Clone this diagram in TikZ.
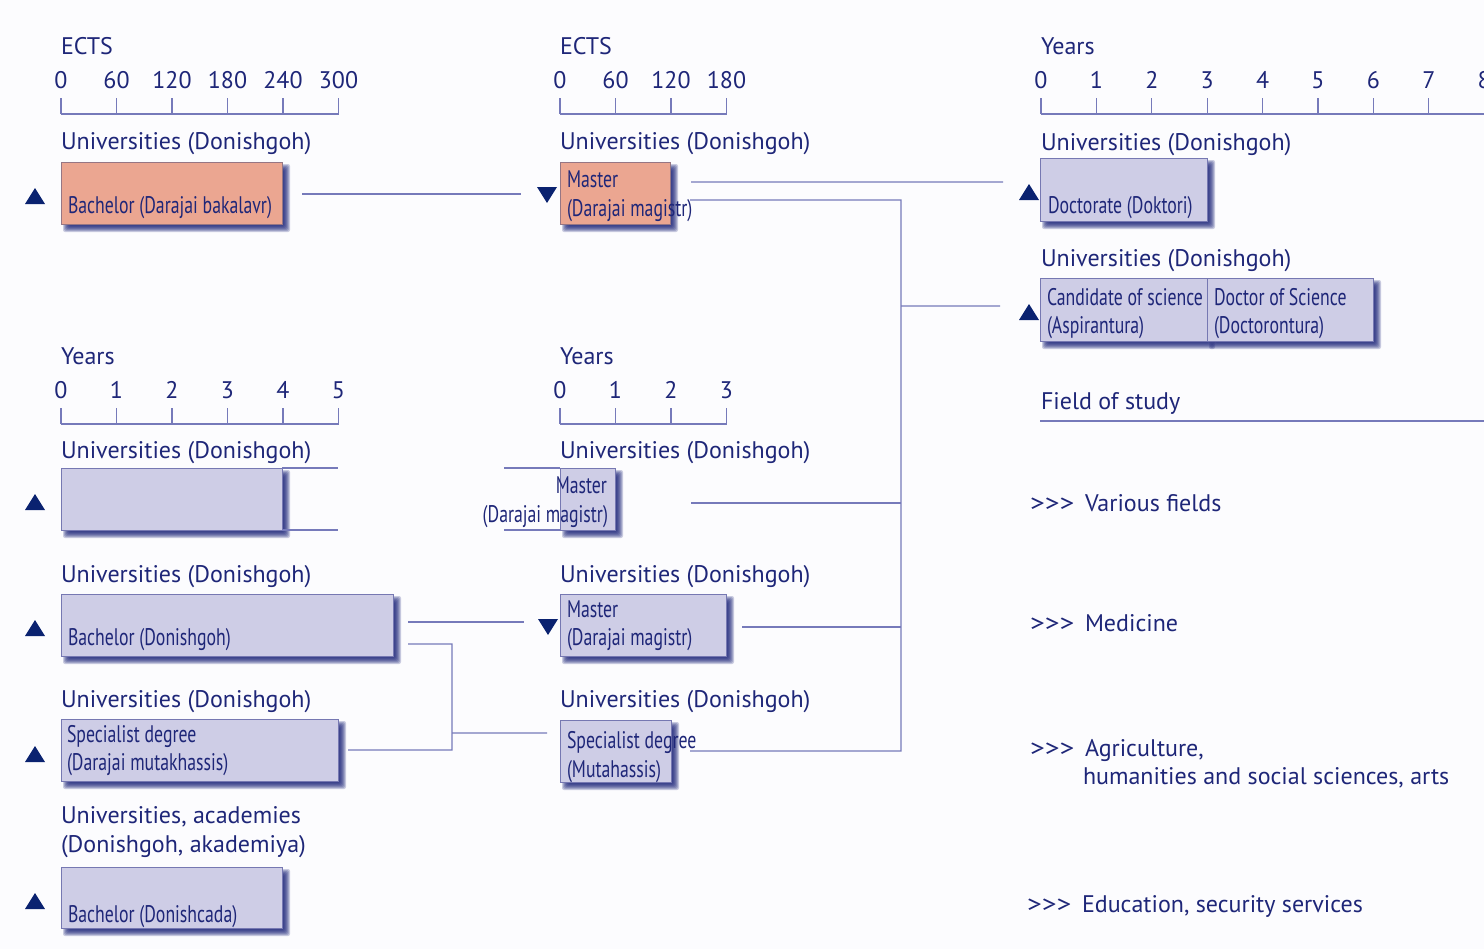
\documentclass[tikz,border=0pt]{standalone}
\usepackage{fontspec}
\setmainfont{PT Sans}
\newfontfamily\condfont[FakeStretch=0.74]{PT Sans}
\usetikzlibrary{calc}
\definecolor{navy}{RGB}{30,38,120}
\definecolor{tricol}{RGB}{10,34,112}
\definecolor{lav}{RGB}{206,205,230}
\definecolor{lavborder}{RGB}{118,120,178}
\definecolor{salmon}{RGB}{235,166,145}
\definecolor{salborder}{RGB}{150,118,132}
\definecolor{conn}{RGB}{118,122,186}
\definecolor{shadowcol}{RGB}{22,30,118}
\definecolor{bgc}{RGB}{252,252,254}
\pgfdeclarelayer{bglayer}
\pgfdeclarelayer{shadowlayer}
\pgfsetlayers{bglayer,shadowlayer,main}
\newcommand\dropshade[1]{%
  \begin{pgfonlayer}{shadowlayer}
    \foreach \k in {4,3,2,1,0,-1,-2}{%
      \fill[shadowcol,opacity=0.22,rounded corners=2bp] ($(#1.north west)+(6-\k,6-\k)$) rectangle ($(#1.south east)+(4+\k,4+\k)$);
    }
  \end{pgfonlayer}}
\newcommand\uptri[2]{\fill[tricol] (#1-10,#2) -- (#1+10,#2) -- (#1,#2-16) -- cycle;}
\newcommand\downtri[2]{\fill[tricol] (#1-10,#2) -- (#1+10,#2) -- (#1,#2+16) -- cycle;}
\newcommand\chev{\scalebox{1.22}[1]{>{}>{}>}}
\tikzset{
  lbl/.style={anchor=base west, inner sep=0pt, outer sep=0pt, text=navy, font=\fontsize{24bp}{28bp}\selectfont},
  num/.style={anchor=base, inner sep=0pt, outer sep=0pt, text=navy, font=\fontsize{24bp}{28bp}\selectfont},
  btxt/.style={anchor=base west, inner sep=0pt, outer sep=0pt, text=navy, font=\condfont\fontsize{24bp}{28bp}\selectfont},
  btxtr/.style={btxt, anchor=base east},
  degbox/.style={draw=lavborder, fill=lav, line width=0.9bp, anchor=north west, inner sep=0pt, outer sep=0pt},
  orangebox/.style={degbox, draw=salborder, fill=salmon},
  conn/.style={draw=conn, line width=1.2bp},
  axisline/.style={draw=conn, line width=1.1bp},
}
\begin{document}
\begin{tikzpicture}[x=1bp,y=-1bp]
\begin{pgfonlayer}{bglayer}
  \fill[bgc] (0,0) rectangle (1484,949);
\end{pgfonlayer}
\useasboundingbox (0,0) rectangle (1484,949);

% ---------- scales ----------
\node[lbl] (ects1) at (61,54) {ECTS};
\foreach \v [count=\i from 0] in {0,60,120,180,240,300}{
  \node[num] (ea\i) at (61+55.5*\i,88) {\v};
  \draw[axisline] (61+55.5*\i,98) -- (61+55.5*\i,114);
}
\draw[axisline] (61,114) -- (338.5,114);

\node[lbl] (ects2) at (560,54) {ECTS};
\foreach \v [count=\i from 0] in {0,60,120,180}{
  \node[num] (eb\i) at (560+55.5*\i,88) {\v};
  \draw[axisline] (560+55.5*\i,98) -- (560+55.5*\i,114);
}
\draw[axisline] (560,114) -- (726.5,114);

\node[lbl] (yrs3) at (1041,54) {Years};
\foreach \v [count=\i from 0] in {0,1,2,3,4,5,6,7,8}{
  \node[num] (ec\i) at (1041+55.4*\i,88) {\v};
  \draw[axisline] (1041+55.4*\i,98) -- (1041+55.4*\i,114);
}
\draw[axisline] (1041,114) -- (1490,114);

\node[lbl] (yrs1) at (61,364) {Years};
\foreach \v [count=\i from 0] in {0,1,2,3,4,5}{
  \node[num] (ed\i) at (61+55.5*\i,398) {\v};
  \draw[axisline] (61+55.5*\i,408) -- (61+55.5*\i,424);
}
\draw[axisline] (61,424) -- (338.5,424);

\node[lbl] (yrs2) at (560,364) {Years};
\foreach \v [count=\i from 0] in {0,1,2,3}{
  \node[num] (ee\i) at (560+55.5*\i,398) {\v};
  \draw[axisline] (560+55.5*\i,408) -- (560+55.5*\i,424);
}
\draw[axisline] (560,424) -- (726.5,424);

% ---------- institution labels ----------
\node[lbl] (u1) at (61,149) {Universities (Donishgoh)};
\node[lbl] (u2) at (560,149) {Universities (Donishgoh)};
\node[lbl] (u3) at (1041,150) {Universities (Donishgoh)};
\node[lbl] (u4) at (1041,266) {Universities (Donishgoh)};
\node[lbl] (u5) at (61,458) {Universities (Donishgoh)};
\node[lbl] (u6) at (560,458) {Universities (Donishgoh)};
\node[lbl] (u7) at (61,582) {Universities (Donishgoh)};
\node[lbl] (u8) at (560,582) {Universities (Donishgoh)};
\node[lbl] (u9) at (61,707) {Universities (Donishgoh)};
\node[lbl] (u10) at (560,707) {Universities (Donishgoh)};
\node[lbl] (u11) at (61,823) {Universities, academies};
\node[lbl] (u12) at (61,852) {(Donishgoh, akademiya)};

% ---------- boxes ----------
\node[orangebox, minimum width=221bp, minimum height=62bp] (b1) at (61,162) {};
\node[orangebox, minimum width=110bp, minimum height=62bp] (m1) at (560,162) {};
\node[degbox, minimum width=167bp, minimum height=63bp] (d1) at (1040,158) {};
\node[degbox, minimum width=167bp, minimum height=63bp] (c1) at (1040,278) {};
\node[degbox, minimum width=166bp, minimum height=63bp] (c2) at (1207,278) {};
\node[degbox, minimum width=221bp, minimum height=62bp] (e1) at (61,468) {};
\node[degbox, minimum width=55bp, minimum height=62bp] (m2) at (560,468) {};
\node[degbox, minimum width=332bp, minimum height=62bp] (b2) at (61,594) {};
\node[degbox, minimum width=166bp, minimum height=62bp] (m3) at (560,594) {};
\node[degbox, minimum width=277bp, minimum height=62bp] (s1) at (61,719) {};
\node[degbox, minimum width=111bp, minimum height=62bp] (s2) at (560,720) {};
\node[degbox, minimum width=221bp, minimum height=61bp] (b3) at (61,867) {};
\foreach \n in {b1,m1,d1,c1,c2,e1,m2,b2,m3,s1,s2,b3}{\dropshade{\n}}

% ---------- markers ----------
\uptri{35}{204}
\downtri{547}{187}
\uptri{1029}{200}
\uptri{1029}{320}
\uptri{35}{510}
\uptri{35}{636}
\downtri{548}{619}
\uptri{35}{762}
\uptri{35}{909}

% ---------- connectors ----------
\coordinate (brtop) at (901,200);
\coordinate (brbot) at (901,751);
\draw[conn] ($(b1.east)+(20,1)$) -- ($(m1.west)+(-39,1)$);
\draw[conn] ($(m1.east)+(21,-11)$) -- ($(d1.west)+(-37,-7.5)$);
\draw[conn] ($(m1.east)+(20,7)$) -- (brtop) -- (brbot) -- ($(s2.east)+(19,0)$);
\draw[conn] (brtop |- 0,306) -- ($(c1.west)+(-40,-3.5)$);
\draw[conn] ($(m2.east)+(76,4)$) coordinate (m2o) -- (m2o -| brtop);
\draw[conn] ($(m3.east)+(16,2)$) coordinate (m3o) -- (m3o -| brtop);
\draw[conn] (e1.north east) -- ++(56,0);
\draw[conn] (e1.south east) -- ++(56,0);
\draw[conn] (m2.north west) -- ++(-56,0);
\draw[conn] (m2.south west) -- ++(-56,0);
\draw[conn] ($(b2.east)+(15,-3)$) -- ($(m3.west)+(-36,-3)$);
\draw[conn] ($(b2.east)+(15,19)$) -- (452,644) coordinate (jn) -- (jn |- s1.east) -- ($(s1.east)+(10,0)$);
\draw[conn] (jn |- 0,733) -- ($(s2.west)+(-13,-18)$);
\draw[conn] (1040,421) -- (1490,421);

% ---------- box texts ----------
\node[btxt] (tb1) at (68,213) {Bachelor (Darajai bakalavr)};
\node[btxt] (tm1a) at (567,187) {Master};
\node[btxt] (tm1b) at (567,216) {(Darajai magistr)};
\node[btxt] (td1) at (1048,213) {Doctorate (Doktori)};
\node[btxt] (tc1a) at (1047,305) {Candidate of science};
\node[btxt] (tc1b) at (1047,333) {(Aspirantura)};
\node[btxt] (tc2a) at (1214,305) {Doctor of Science};
\node[btxt] (tc2b) at (1214,333) {(Doctorontura)};
\node[btxtr] (tm2a) at (607,493) {Master};
\node[btxtr] (tm2b) at (608,522) {(Darajai magistr)};
\node[btxt] (tb2) at (68,645) {Bachelor (Donishgoh)};
\node[btxt] (tm3a) at (567,617) {Master};
\node[btxt] (tm3b) at (567,645) {(Darajai magistr)};
\node[btxt] (ts1a) at (67,742) {Specialist degree};
\node[btxt] (ts1b) at (67,770) {(Darajai mutakhassis)};
\node[btxt] (ts2a) at (567,748) {Specialist degree};
\node[btxt] (ts2b) at (567,777) {(Mutahassis)};
\node[btxt] (tb3) at (68,922) {Bachelor (Donishcada)};

% ---------- fields ----------
\node[lbl] (fos) at (1041,409) {Field of study};
\node[lbl] (ar1) at (1030,511) {\chev};
\node[lbl] (f1) at (1085,511) {Various fields};
\node[lbl] (ar2) at (1030,631) {\chev};
\node[lbl] (f2) at (1085,631) {Medicine};
\node[lbl] (ar3) at (1030,756) {\chev};
\node[lbl] (f3a) at (1085,756) {Agriculture,};
\node[lbl] (f3b) at (1083,784) {humanities and social sciences, arts};
\node[lbl] (ar4) at (1027,912) {\chev};
\node[lbl] (f4) at (1082,912) {Education, security services};
\end{tikzpicture}
\end{document}
